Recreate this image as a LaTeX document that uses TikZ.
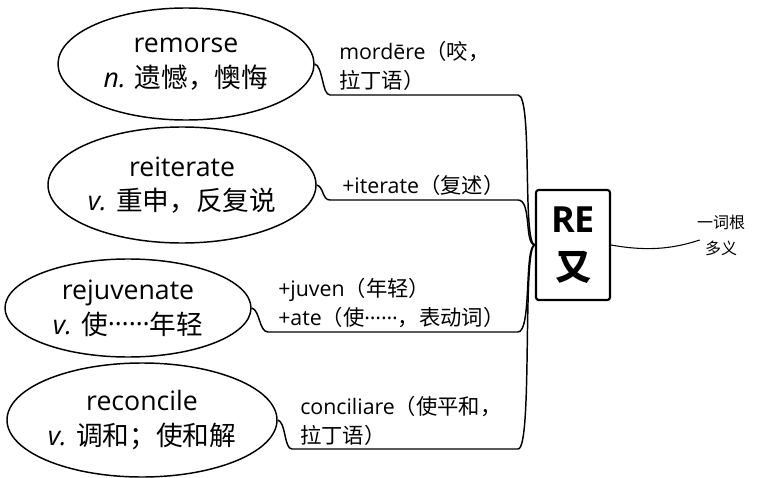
\documentclass[tikz,border=0pt]{standalone}
\usepackage{fontspec}
\setmainfont{Open Sans}
\newfontfamily\cjk{Noto Sans CJK SC}
\newcommand{\middots}{\raisebox{0.3em}{……}}
\usetikzlibrary{positioning,shapes.geometric}

\begin{document}
\begin{tikzpicture}[x=0.75pt, y=-0.75pt,
    word/.style={ellipse, draw, line width=1.1pt, inner sep=0pt, align=center, font=\fontsize{20}{26}\selectfont},
    gloss/.style={anchor=west, inner sep=0pt, align=left, font=\fontsize{16}{22}\selectfont},
    branch/.style={line width=1.1pt},
    rootbox/.style={draw, line width=1.6pt, rounded corners=2pt, align=center, minimum width=55.5pt, minimum height=82.5pt, inner sep=0pt, font=\fontsize{27}{36}\selectfont\bfseries}]
    \useasboundingbox (0,0) rectangle (757,478);

    % Root box and its side note
    \node[rootbox] (root) at (573,245) {RE\\{\cjk 又}};
    \node[inner sep=0pt, align=center, font=\cjk\fontsize{12}{19.5}\selectfont] (note) at (721,235) {一词根\\多义};
    \draw[line width=0.8pt] (root.east) .. controls (650,252) and (675,248) .. ([shift={(3,5)}]note.west);

    % Words (ellipses)
    \node[word, minimum width=192pt, minimum height=84pt] (remorse) at (186,64) {remorse\\\textit{n.} {\cjk 遗憾，懊悔}};
    \node[word, minimum width=201pt, minimum height=87pt] (reiterate) at (182,185) {reiterate\\\textit{v.} {\cjk 重申，反复说}};
    \node[word, minimum width=184.5pt, minimum height=73.5pt] (rejuvenate) at (128,308) {rejuvenate\\\textit{v.} {\cjk 使}\middots{\cjk 年轻}};
    \node[word, minimum width=202.5pt, minimum height=85.5pt] (reconcile) at (142,420) {reconcile\\\textit{v.} {\cjk 调和；使和解}};

    % Glosses above the branches
    \node[gloss] (g1) at (339,66) {mordēre{\cjk （咬，}\\{\cjk 拉丁语）}};
    \node[gloss] (g2) at (342,185) {+iterate{\cjk （复述）}};
    \node[gloss] (g3) at (278,303) {+juven{\cjk （年轻）}\\+ate{\cjk （使}\middots{\cjk ，表动词）}};
    \node[gloss] (g4) at (300,421) {conciliare{\cjk （使平和，}\\{\cjk 拉丁语）}};

    % Branch ends (underlines)
    \coordinate (u1a) at (330,95);  \coordinate (u1b) at (518,95);
    \coordinate (u2a) at (330,200); \coordinate (u2b) at (518,200);
    \coordinate (u3a) at (268,332); \coordinate (u3b) at (518,332);
    \coordinate (u4a) at (292,449); \coordinate (u4b) at (518,449);

    % Branches: word -> underline -> root
    \draw[branch] (remorse.east) .. controls (323,66) and (322,95) .. (u1a) -- (u1b) .. controls (533,95) and (522,245) .. (root.west);
    \draw[branch] (reiterate.east) .. controls (324,187) and (322,200) .. (u2a) -- (u2b) .. controls (532,200) and (524,245) .. (root.west);
    \draw[branch] (rejuvenate.east) .. controls (260,310) and (259,332) .. (u3a) -- (u3b) .. controls (532,332) and (524,245) .. (root.west);
    \draw[branch] (reconcile.east) .. controls (286,422) and (284,449) .. (u4a) -- (u4b) .. controls (533,449) and (522,245) .. (root.west);
\end{tikzpicture}
\end{document}
